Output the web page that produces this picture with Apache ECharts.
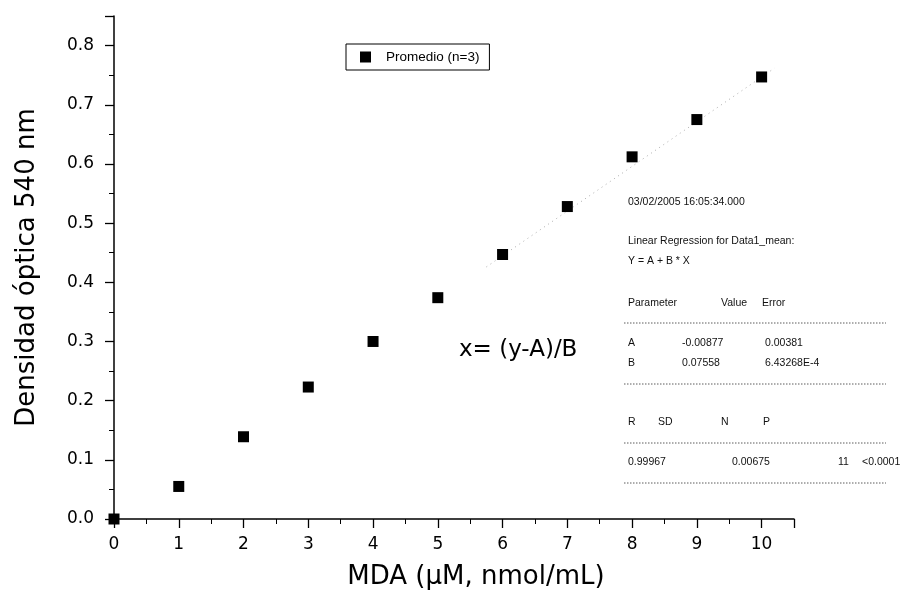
<!DOCTYPE html>
<html>
<head>
<meta charset="utf-8">
<script src="https://cdn.jsdelivr.net/npm/echarts@6/dist/echarts.min.js"></script>
<style>
html,body{margin:0;padding:0;background:#fff;}
#main{width:909px;height:599px;}
</style>
</head>
<body>
<div id="main"></div>
<script>
// datos
var mda = [0, 1, 2, 3, 4, 5, 6, 7, 8, 9, 10];
var densidad = [0, 0.055, 0.139, 0.223, 0.300, 0.374, 0.447, 0.528, 0.612, 0.675, 0.747];
// recta de ajuste (tramo visible en la figura)
var ajusteX = [5.75, 10.2];
var ajusteY = [0.426, 0.762];
var serieNombre = 'Promedio (n=3)';

var chart = echarts.init(document.getElementById('main'));

var puntos = [];
for (var i = 0; i < mda.length; i++) puntos.push([mda[i], densidad[i]]);
var recta = [];
for (var j = 0; j < ajusteX.length; j++) recta.push([ajusteX[j], ajusteY[j]]);

var small = { fontFamily: 'Liberation Sans', fontSize: 10.5, fill: '#111' };
function txt(x, y, s){
	return { type: 'text', left: x, top: y, style: Object.assign({ text: s }, small) };
}
function puntos_linea(y){
	return { type: 'line', shape: { x1: 624, y1: y, x2: 886, y2: y },
		style: { stroke: '#333', lineWidth: 0.8, lineDash: [1.5, 1.5] } };
}

var option = {
	animation: false,
	grid: { left: 114, right: 115, top: 16, bottom: 80 },
	legend: {
		data: [serieNombre],
		left: 346, top: 44,
		padding: [6, 10, 6, 14],
		itemWidth: 11, itemHeight: 11,
		borderColor: '#000', borderWidth: 1,
		textStyle: { fontFamily: 'Liberation Sans', fontSize: 13.5, color: '#000', padding: [0, 0, 0, 10] }
	},
	xAxis: {
		type: 'value', min: 0, max: 10.5, interval: 1,
		name: 'MDA (\u03bcM, nmol/mL)', nameLocation: 'middle', nameGap: 45,
		nameTextStyle: { fontFamily: 'DejaVu Sans', fontSize: 26, color: '#000', padding: [0, 0, 0, 44] },
		splitLine: { show: false },
		axisLine: { onZero: false, lineStyle: { color: '#000', width: 1.5 } },
		axisTick: { length: 9, lineStyle: { color: '#000', width: 1.3 } },
		minorTick: { show: true, splitNumber: 2, length: 5, lineStyle: { color: '#000', width: 1 } },
		axisLabel: { margin: 17, fontFamily: 'DejaVu Sans', fontSize: 17, color: '#000', showMaxLabel: false }
	},
	yAxis: {
		type: 'value', min: 0, max: 0.85, interval: 0.1,
		name: 'Densidad \u00f3ptica 540 nm', nameLocation: 'middle', nameGap: 74,
		nameTextStyle: { fontFamily: 'DejaVu Sans', fontSize: 26, color: '#000' },
		splitLine: { show: false },
		axisLine: { onZero: false, lineStyle: { color: '#000', width: 1.5 } },
		axisTick: { length: 9, lineStyle: { color: '#000', width: 1.3 } },
		minorTick: { show: true, splitNumber: 2, length: 5, lineStyle: { color: '#000', width: 1 } },
		axisLabel: {
			margin: 20, fontFamily: 'DejaVu Sans', fontSize: 17, color: '#000', showMaxLabel: false,
			formatter: function(v){ return v.toFixed(1); }
		}
	},
	series: [
		{
			name: serieNombre,
			type: 'scatter',
			symbol: 'rect',
			symbolSize: 11,
			clip: false,
			itemStyle: { color: '#000', opacity: 1 },
			data: puntos,
			z: 3
		},
		{
			name: 'ajuste',
			type: 'line',
			symbol: 'none',
			silent: true,
			lineStyle: { color: '#aaa', width: 1, type: [1, 4] },
			data: recta,
			z: 2
		}
	],
	graphic: [
		{ type: 'text', left: 459, top: 339, style: { text: 'x= (y-A)/B', fontFamily: 'DejaVu Sans', fontSize: 23, fill: '#000' } },
		txt(628, 197, '03/02/2005 16:05:34.000'),
		txt(628, 236, 'Linear Regression for Data1_mean:'),
		txt(628, 256, 'Y = A + B * X'),
		txt(628, 298, 'Parameter'),
		txt(721, 298, 'Value'),
		txt(762, 298, 'Error'),
		puntos_linea(323),
		txt(628, 338, 'A'),
		txt(682, 338, '-0.00877'),
		txt(765, 338, '0.00381'),
		txt(628, 358, 'B'),
		txt(682, 358, '0.07558'),
		txt(765, 358, '6.43268E-4'),
		puntos_linea(384),
		txt(628, 417, 'R'),
		txt(658, 417, 'SD'),
		txt(721, 417, 'N'),
		txt(763, 417, 'P'),
		puntos_linea(443),
		txt(628, 457, '0.99967'),
		txt(732, 457, '0.00675'),
		txt(838, 457, '11'),
		txt(862, 457, '<0.0001'),
		puntos_linea(483)
	]
};
chart.setOption(option);
</script>
</body>
</html>
